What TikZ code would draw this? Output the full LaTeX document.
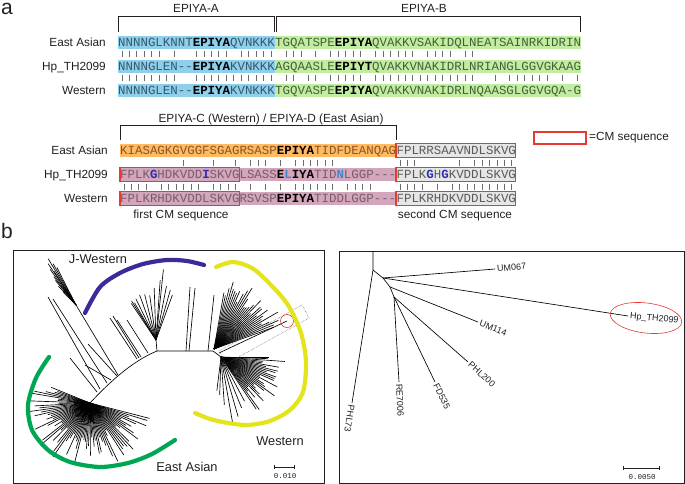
\documentclass[tikz,border=0pt]{standalone}
\usepackage{fontspec}
\setmainfont{Liberation Sans}
\setmonofont{Liberation Mono}
\usepackage{xstring}
\usetikzlibrary{arrows.meta,shapes.geometric}
\definecolor{Ink}{HTML}{231F20}
\definecolor{BoxBlue}{HTML}{8ECFEC}
\definecolor{BoxGreen}{HTML}{C2EDA0}
\definecolor{BoxOrange}{HTML}{FFBA62}
\definecolor{BoxMauve}{HTML}{D4A6BC}
\definecolor{BoxGrey}{HTML}{E6E6E6}
\definecolor{CMRed}{HTML}{E8392F}
\definecolor{TxtBlue}{HTML}{35586B}
\definecolor{TxtGreen}{HTML}{44603A}
\definecolor{TxtOrange}{HTML}{8A5424}
\definecolor{TxtMauve}{HTML}{765C6A}
\definecolor{TxtGrey}{HTML}{5A5A5A}
\definecolor{Deep}{HTML}{2E2DB0}
\definecolor{Light}{HTML}{3C8BD0}
\definecolor{JWest}{HTML}{3B2A98}
\definecolor{West}{HTML}{E4E41C}
\definecolor{EAsia}{HTML}{00A653}
\definecolor{BarGrey}{HTML}{6B6B6B}
\newcommand\cw{7.46}
\newcommand\seqfont{\ttfamily\fontsize{12.43}{14}\selectfont}
\newcommand\labfont{\fontsize{11.8}{13}\selectfont}
\newcommand\epi[1]{\textbf{\color{black}#1}}
\newcommand\subdark[1]{\textbf{\color{Deep}#1}}
\newcommand\sublight[1]{\textbf{\color{Light}#1}}
\def\seqEAa{NNNNGLKNNTEPIYAQVNKKKTGQATSPEEPIYAQVAKKVSAKIDQLNEATSAINRKIDRIN}
\def\seqHPa{NNNNGLEN--EPIYAKVNKKKAGQAASLEEPIYTQVAKKVNAKIDRLNRIANGLGGVGKAAG}
\def\seqWEa{NNNNGLEN--EPIYAKVNKKKTGQVASPEEPIYAQVAKKVNAKIDRLNQAASGLGGVGQA-G}
\def\seqEAb{KIASAGKGVGGFSGAGRSASPEPIYATIDFDEANQAGFPLRRSAAVNDLSKVG}
\def\seqHPb{FPLKGHDKVDDISKVGLSASSELIYATIDNLGGP---FPLKGHGKVDDLSKVG}
\def\seqWEb{FPLKRHDKVDDLSKVGRSVSPEPIYATIDDLGGP---FPLKRHDKVDDLSKVG}
\def\gapchar{-}
\newcommand\matchbars[5]{%
  \StrLen{#1}[\mblen]%
  \foreach \i in {1,...,\mblen}{%
    \StrChar{#1}{\i}[\mca]%
    \StrChar{#2}{\i}[\mcb]%
    \ifx\mca\mcb
      \ifx\mca\gapchar\else
        \draw[match] ({#3+(\i-.5)*\cw},#4) -- ({#3+(\i-.5)*\cw},#5);
      \fi
    \fi
  }%
}
\tikzset{
  seq/.style={font=\seqfont,anchor=west,inner sep=0pt,text height=8.2pt,text depth=0pt},
  rowlab/.style={font=\labfont,text=Ink,anchor=east,inner sep=0pt,text height=8.4pt,text depth=0pt},
  title/.style={font=\labfont,text=Ink,inner sep=0pt},
  brk/.style={draw=Ink,line width=.9pt},
  match/.style={draw=BarGrey,line width=.45pt},
  cmbox/.style={draw=CMRed,line width=1.1pt},
  branch/.style={draw=black,line width=.65pt},
  clade/.style={line width=4.2pt,line cap=round},
  cladelab/.style={font=\fontsize{12.8}{14}\selectfont,text=Ink,inner sep=0pt},
  tip/.style={font=\fontsize{9}{10}\selectfont,text=Ink,anchor=west,inner sep=2pt},
  scalebar/.style={draw=Ink,line width=.6pt,{Bar[width=4pt]}-{Bar[width=4pt]}},
  scalelab/.style={font=\ttfamily\fontsize{7.5}{8}\selectfont,text=Ink},
  frame/.style={draw=Ink,line width=.9pt},
  panel/.style={font=\fontsize{21}{24}\selectfont,text=Ink,anchor=base west,inner sep=0pt,text height=14pt,text depth=0pt},
}
\begin{document}
\begin{tikzpicture}[x=1pt,y=-1pt]
\useasboundingbox (0,0) rectangle (685,484);
\node[panel] (pa) at (1,15) {a};
\node[panel] (pb) at (1,238) {b};

\node[title] (tA) at (196,8) {EPIYA-A};
\node[title] (tB) at (424,8) {EPIYA-B};
\draw[brk] (118,32) -- (118,16) -- (274.7,16) -- (274.7,32);
\draw[brk] (276.6,32) -- (276.6,16) -- (580,16) -- (580,32);
\foreach \y in {42.5,66.5,90.5}{
  \fill[BoxBlue] (118,\y-6.8) rectangle ++(21*\cw,13.6);
  \fill[BoxGreen] (118+21*\cw,\y-6.8) rectangle ++(41*\cw,13.6);
}
\node[rowlab] (lEA1) at (106,42.5) {East Asian};
\node[rowlab] (lHP1) at (106,66.5) {Hp\_TH2099};
\node[rowlab] (lWE1) at (106,90.5) {Western};
\node[seq,text=TxtBlue] (eaA) at (118,42.5) {NNNNGLKNNT\epi{EPIYA}QVNKKK};
\node[seq,text=TxtGreen] (eaB) at (eaA.east) {TGQATSPE\epi{EPIYA}QVAKKVSAKIDQLNEATSAINRKIDRIN};
\node[seq,text=TxtBlue] (hpA) at (118,66.5) {NNNNGLEN-{}-\epi{EPIYA}KVNKKK};
\node[seq,text=TxtGreen] (hpB) at (hpA.east) {AGQAASLE\epi{EPIYT}QVAKKVNAKIDRLNRIANGLGGVGKAAG};
\node[seq,text=TxtBlue] (weA) at (118,90.5) {NNNNGLEN-{}-\epi{EPIYA}KVNKKK};
\node[seq,text=TxtGreen] (weB) at (weA.east) {TGQVASPE\epi{EPIYA}QVAKKVNAKIDRLNQAASGLGGVGQA-G};
\matchbars{\seqEAa}{\seqHPa}{118}{51.5}{57.5}
\matchbars{\seqHPa}{\seqWEa}{118}{75.5}{81.5}

\node[title] (tCD) at (271,119) {EPIYA-C (Western) / EPIYA-D (East Asian)};
\draw[brk] (120,140) -- (120,125) -- (120+37*\cw,125) -- (120+37*\cw,140);
\foreach \y/\col in {150.5/BoxOrange,174.5/BoxMauve,198.5/BoxMauve}
  \fill[\col] (120,\y-6.8) rectangle ++(37*\cw,13.6);
\foreach \y in {150.5,174.5,198.5}
  \draw[cmbox,fill=BoxGrey] (120+37*\cw,\y-6.8) rectangle ++(16*\cw,13.6);
\foreach \y in {174.5,198.5}
  \draw[cmbox] (120,\y-6.8) rectangle ++(16*\cw,13.6);
\node[rowlab] (lEA2) at (108,150.5) {East Asian};
\node[rowlab] (lHP2) at (108,174.5) {Hp\_TH2099};
\node[rowlab] (lWE2) at (108,198.5) {Western};
\node[seq,text=TxtOrange] (eaC) at (120,150.5) {KIASAGKGVGGFSGAGRSASP\epi{EPIYA}TIDFDEANQAG};
\node[seq,text=TxtGrey] (eaD) at (eaC.east) {FPLRRSAAVNDLSKVG};
\node[seq,text=TxtMauve] (hpC) at (120,174.5) {FPLK\subdark{G}HDKVDD\subdark{I}SKVGLSASS\epi{E}\sublight{L}\epi{IYA}TID\sublight{N}LGGP-{}-{}-};
\node[seq,text=TxtGrey] (hpD) at (hpC.east) {FPLK\subdark{G}H\subdark{G}KVDDLSKVG};
\node[seq,text=TxtMauve] (weC) at (120,198.5) {FPLKRHDKVDDLSKVGRSVSP\epi{EPIYA}TIDDLGGP-{}-{}-};
\node[seq,text=TxtGrey] (weD) at (weC.east) {FPLKRHDKVDDLSKVG};
\matchbars{\seqEAb}{\seqHPb}{120}{159.5}{165.5}
\matchbars{\seqHPb}{\seqWEb}{120}{183.5}{189.5}
\node[title] (cm1) at (181,215) {first CM sequence};
\node[title] (cm2) at (455,215) {second CM sequence};
\draw[cmbox,fill=white] (534,132) rectangle (586,144);
\node[title,anchor=west] (leg) at (589,138) {=CM sequence};

\draw[frame] (13,250) rectangle (324,483);
\draw[frame] (339,251) rectangle (684,483);

\pgfmathsetseed{2099}
\coordinate (ea) at (90,403);
\coordinate (mid) at (157,351);
\coordinate (wh) at (213,351);
\coordinate (wl) at (221,357);
\coordinate (jw) at (76,305);
\coordinate (mf) at (156,340);
\coordinate (wu) at (214,349);
\coordinate (hp) at (287,321);
\draw[branch] (ea) .. controls (106,386) and (130,362) .. (mid) -- (wh) -- (wl);
\foreach \a in {158,160.5,...,346}{
  \pgfmathsetmacro\blen{30+36*rnd}
  \draw[branch] (ea) -- ++(-\a:\blen);
}
\foreach \a in {170,174,...,340}
  \draw[branch] (ea) -- ++(-\a:{10+12*rnd});
\draw[branch] (118,375) -- (jw);
\foreach \a/\r in {121/54,124/50,119/47,126/44,123/40,128/36,130/32,117/42,133/26,127/22,135/18}
  \draw[branch] (jw) -- ++(-\a:\r);
\draw[branch] (100,389) -- (48,297);
\draw[branch] (107,383) -- (53,299);
\draw[branch] (97,392) -- (70,358);
\draw[branch] (111,380) -- (85,365);
\draw[branch] (117,376) -- (88,344);
\foreach \s/\e in {{137,359}/{110,318},{139,358}/{113,316},{141,357}/{117,320},{148,353}/{127,320}}
  \draw[branch] (\s) -- (\e);
\draw[branch] (mid) -- (mf);
\foreach \a/\r in {124/44,122/46,120/43,116/46,110/48,104/47,98/45,92/52,86/60,84/71,79/55,74/52,70/48}
  \draw[branch] (mf) -- ++(-\a:\r);
\draw[branch] (186,351) -- (190,287);
\draw[branch] (189,351) -- (195,288);
\draw[branch] (208,351) -- (214,295);
\foreach \a in {20,22,...,80}{
  \pgfmathsetmacro\blen{44+30*rnd}
  \draw[branch] (wu) -- ++(-\a:\blen);
}
\foreach \a in {0,2,...,56}{
  \pgfmathsetmacro\blen{40+28*rnd}
  \draw[branch] (wl) -- ++(\a:\blen);
}
\foreach \a/\r in {62/50,68/55,74/62,80/68,86/48,92/38,97/34}
  \draw[branch] (wl) -- ++(\a:\r);
\draw[branch] (219,353) -- (hp);
\draw[CMRed,line width=.6pt] (hp) circle (6.5);
\draw[Ink!70,densely dotted,line width=.5pt] (219,351) -- (302,305) -- (309,318) -- (226,364) -- cycle;
\draw[clade,JWest] plot[smooth] coordinates {(85,313) (100,287) (120,273) (143,264) (167,260) (187,261) (204,265)};
\draw[clade,West] plot[smooth] coordinates {(216,267) (233,262) (252,268) (270,284) (288,305) (301,333) (306,362) (303,392) (290,410) (270,421) (248,425) (228,423) (210,419) (195,413)};
\draw[clade,EAsia] plot[smooth] coordinates {(49,357) (36,378) (28,405) (32,430) (48,450) (70,462) (100,467) (128,463) (152,454) (175,440)};
\node[cladelab] (cJW) at (98,259) {J-Western};
\node[cladelab] (cWE) at (280,441) {Western};
\node[cladelab] (cEA) at (187,467) {East Asian};
\coordinate (sb1) at (274,467);
\coordinate (sb2) at (295,467);
\draw[scalebar] (sb1) -- (sb2);
\node[scalelab] (sl1) at (285,476) {0.010};

\coordinate (r0) at (373,251);
\coordinate (r1) at (373,270);
\coordinate (r2) at (383,278);
\coordinate (r3) at (390,287);
\coordinate (r4) at (394,297);
\node[tip,rotate=5] (tUM067) at (495,269) {UM067};
\node[tip,rotate=-6] (tHP) at (628,316) {Hp\_TH2099};
\node[tip,rotate=-22] (tUM114) at (478,322) {UM114};
\node[tip,rotate=-42] (tPHL200) at (468,362) {PHL200};
\node[tip,rotate=-64] (tFD535) at (435,382) {FD535};
\node[tip,rotate=-87] (tRE7006) at (399,382) {RE7006};
\node[tip,rotate=-99] (tPHL73) at (352,403) {PHL73};
\draw[branch] (r0) -- (r1) -- (r2) -- (r3) -- (r4);
\draw[branch] (r1) -- (tPHL73.west);
\draw[branch] (r2) -- (tUM067.west);
\draw[branch] (r2) -- (tHP.west);
\draw[branch] (r3) -- (tUM114.west);
\draw[branch] (r4) -- (tPHL200.west);
\draw[branch] (r4) -- (tFD535.west);
\draw[branch] (r4) -- (tRE7006.west);
\node[ellipse,draw=CMRed,line width=.6pt,minimum width=72pt,minimum height=30pt,rotate=-7] (ring) at (646,318) {};
\coordinate (sb3) at (623,468);
\coordinate (sb4) at (660,468);
\draw[scalebar] (sb3) -- (sb4);
\node[scalelab] (sl2) at (642,477) {0.0050};
\end{tikzpicture}
\end{document}
